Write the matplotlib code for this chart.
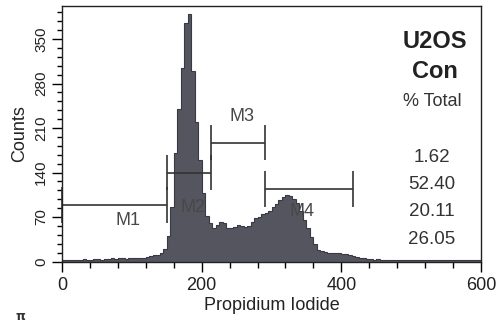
import numpy as np
import matplotlib
matplotlib.use("Agg")
import matplotlib.pyplot as plt

# ---- data ----
bin_width = 5
counts = [2, 3, 3, 2, 3, 3, 4, 3, 3, 4, 4, 3, 4, 4, 5, 4, 5, 5, 4, 5,
          6, 5, 6, 6, 7, 8, 10, 11, 14, 20,
          40, 85, 170, 240, 305, 375, 390, 300, 220, 160, 108, 72,
          60, 52, 58, 62, 60, 53, 52, 55, 57, 56, 54, 56,
          62, 68, 70, 74, 77, 80, 85, 90, 97, 102, 105, 103, 99, 92, 80, 66,
          52, 38, 28, 18, 16, 15, 14, 14, 13, 13, 12, 12, 11, 9, 7, 6, 5, 4,
          4, 3, 4, 3, 3, 3, 2, 3, 2, 3, 2, 2, 3, 2, 2, 2, 3, 2, 2, 2, 2, 2,
          2, 2, 2, 2, 2, 2, 2, 2, 2, 2]
edges = np.arange(0, bin_width * (len(counts) + 1), bin_width)

x_ticks = [0, 200, 400, 600]
y_ticks = [0, 70, 140, 210, 280, 350]

marker_names = ["M1", "M2", "M3", "M4"]
marker_start = [0, 150, 213, 291]
marker_end = [150, 213, 291, 416]
marker_level = [89, 140, 187, 114]

pct_values = ["1.62", "52.40", "20.11", "26.05"]

# ---- layout ----
W, H = 497, 325
fig = plt.figure(figsize=(W / 100, H / 100), dpi=100)
ax = fig.add_axes([62 / W, 1 - 261.5 / H, (481 - 62) / W, (261.5 - 6) / H])

ax.stairs(counts, edges, fill=True, color="#55555f", linewidth=0)
ax.stairs(counts, edges, fill=False, color="#3a3a44", linewidth=0.8)

ax.set_xlim(0, 600)
ax.set_ylim(0, 402)

ax.set_xticks(x_ticks)
ax.set_xticks(np.arange(0, 601, 40), minor=True)
ax.set_yticks(y_ticks)
ax.set_yticks(np.arange(0, 400, 14), minor=True)

font = "Liberation Sans"
ax.tick_params(axis="x", which="major", length=7, width=1, labelsize=13, pad=4)
ax.tick_params(axis="x", which="minor", length=4, width=1)
ax.tick_params(axis="y", which="major", length=7, width=1, labelsize=11, pad=3,
               labelrotation=90)
ax.tick_params(axis="y", which="minor", length=3.5, width=1)
for lab in ax.get_xticklabels():
    lab.set_fontfamily(font)
    lab.set_color("#222222")
for lab in ax.get_yticklabels():
    lab.set_fontfamily(font)
    lab.set_va("center")
    lab.set_color("#222222")

for s in ax.spines.values():
    s.set_linewidth(1.0)
    s.set_color("#222222")

ax.set_xlabel("Propidium Iodide", fontsize=13, family=font, color="#222222", labelpad=2)
ax.set_ylabel("Counts", fontsize=13, family=font, color="#222222", labelpad=4)

# gate markers
half = 28
label_xy = {"M1": (94, 64), "M2": (187, 85), "M3": (258, 228), "M4": (343, 79)}
for name, a, b, lv in zip(marker_names, marker_start, marker_end, marker_level):
    ax.plot([a, b], [lv, lv], color="#333333", lw=1.2, solid_capstyle="butt",
            clip_on=False)
    ax.vlines([a, b], lv - half, lv + half, color="#333333", lw=1.2, clip_on=False)
    lx, ly = label_xy[name]
    ax.text(lx, ly, name, fontsize=13, family=font, color="#484848",
            ha="center", va="center")

# right-side annotations (pixel positions converted to figure fraction)
def ftext(x, y, s, **kw):
    fig.text(x / W, 1 - y / H, s, ha="center", va="center", family=font, **kw)

ftext(435, 41, "U2OS", fontsize=17, fontweight="bold", color="#222222")
ftext(435, 72, "Con", fontsize=17, fontweight="bold", color="#222222")
ftext(432.5, 102, "% Total", fontsize=13, color="#333333")
for i, v in enumerate(pct_values):
    ftext(432, 157 + i * 27.5, v, fontsize=13.5, color="#333333")

fig.text(20 / W, 1 - 317 / H, "π", fontsize=9, fontweight="bold",
         ha="center", va="center", color="#333333")

fig.savefig("out.png", dpi=100)
